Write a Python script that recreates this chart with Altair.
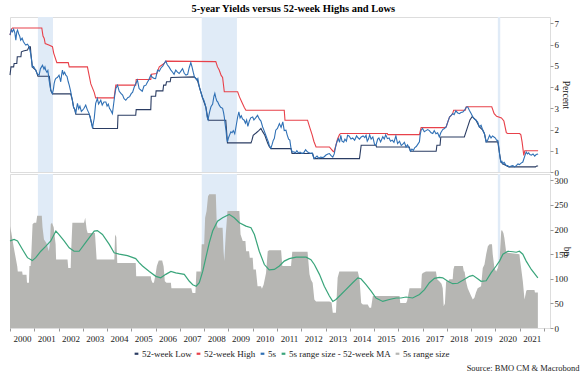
import altair as alt
import pandas as pd

# ---------------- data ----------------
YIELD_T = [2000.00, 2000.05, 2000.10, 2000.15, 2000.20, 2000.24, 2000.28, 2000.31, 2000.36, 2000.40,
           2000.44, 2000.50, 2000.55, 2000.60, 2000.65, 2000.72, 2000.79, 2000.85, 2000.88, 2000.92,
           2000.97, 2001.03, 2001.06, 2001.12, 2001.20, 2001.25, 2001.30, 2001.34, 2001.40, 2001.44,
           2001.47, 2001.52, 2001.56, 2001.61, 2001.68, 2001.75, 2001.79, 2001.82, 2001.86, 2001.89,
           2001.95, 2002.02, 2002.06, 2002.09, 2002.13, 2002.16, 2002.20, 2002.25, 2002.30, 2002.35,
           2002.40, 2002.44, 2002.50, 2002.57, 2002.62, 2002.67, 2002.71, 2002.75, 2002.78, 2002.83,
           2002.88, 2002.94, 2002.99, 2003.05, 2003.12, 2003.18, 2003.26, 2003.30, 2003.33, 2003.40,
           2003.44, 2003.47, 2003.53, 2003.60, 2003.65, 2003.70, 2003.74, 2003.80, 2003.87, 2003.95,
           2004.00, 2004.05, 2004.10, 2004.15, 2004.22, 2004.27, 2004.32, 2004.36, 2004.43, 2004.50,
           2004.57, 2004.64, 2004.70, 2004.77, 2004.85, 2004.93, 2005.00, 2005.05, 2005.12, 2005.20,
           2005.25, 2005.32, 2005.40, 2005.45, 2005.52, 2005.60, 2005.65, 2005.72, 2005.80, 2005.87,
           2005.94, 2006.00, 2006.08, 2006.15, 2006.22, 2006.30, 2006.35, 2006.42, 2006.48, 2006.55,
           2006.63, 2006.70, 2006.76, 2006.83, 2006.90, 2006.97, 2007.04, 2007.11, 2007.18, 2007.25,
           2007.32, 2007.38, 2007.45, 2007.50, 2007.55, 2007.60, 2007.66, 2007.70, 2007.74, 2007.80,
           2007.86, 2007.93, 2007.98, 2008.04, 2008.07, 2008.12, 2008.16, 2008.20, 2008.24, 2008.28,
           2008.35, 2008.40, 2008.44, 2008.48, 2008.52, 2008.56, 2008.62, 2008.68, 2008.76, 2008.80,
           2008.83, 2008.87, 2008.90, 2008.93, 2008.96, 2009.00, 2009.05, 2009.10, 2009.15, 2009.20,
           2009.26, 2009.31, 2009.38, 2009.43, 2009.48, 2009.53, 2009.58, 2009.65, 2009.70, 2009.75,
           2009.80, 2009.86, 2009.92, 2010.00, 2010.05, 2010.12, 2010.20, 2010.27, 2010.34, 2010.41,
           2010.47, 2010.54, 2010.60, 2010.65, 2010.68, 2010.75, 2010.80, 2010.85, 2010.89, 2010.95,
           2011.02, 2011.10, 2011.17, 2011.24, 2011.30, 2011.37, 2011.42, 2011.48, 2011.53, 2011.58,
           2011.63, 2011.70, 2011.76, 2011.82, 2011.88, 2011.95, 2012.02, 2012.10, 2012.18, 2012.25,
           2012.30, 2012.38, 2012.45, 2012.50, 2012.53, 2012.58, 2012.65, 2012.72, 2012.80, 2012.88,
           2012.95, 2013.02, 2013.10, 2013.16, 2013.22, 2013.30, 2013.36, 2013.43, 2013.48, 2013.53,
           2013.58, 2013.63, 2013.68, 2013.75, 2013.80, 2013.86, 2013.91, 2013.97, 2014.05, 2014.12,
           2014.20, 2014.28, 2014.35, 2014.40, 2014.47, 2014.55, 2014.62, 2014.67, 2014.72, 2014.77,
           2014.82, 2014.88, 2014.95, 2015.02, 2015.08, 2015.15, 2015.20, 2015.27, 2015.36, 2015.42,
           2015.48, 2015.55, 2015.62, 2015.68, 2015.75, 2015.82, 2015.90, 2015.97, 2016.05, 2016.12,
           2016.18, 2016.25, 2016.32, 2016.38, 2016.46, 2016.50, 2016.56, 2016.62, 2016.68, 2016.74,
           2016.80, 2016.87, 2016.90, 2016.94, 2017.00, 2017.07, 2017.14, 2017.21, 2017.28, 2017.35,
           2017.42, 2017.48, 2017.55, 2017.62, 2017.69, 2017.75, 2017.83, 2017.90, 2017.97, 2018.04,
           2018.11, 2018.17, 2018.24, 2018.30, 2018.37, 2018.45, 2018.52, 2018.58, 2018.66, 2018.72,
           2018.80, 2018.86, 2018.93, 2019.00, 2019.07, 2019.13, 2019.20, 2019.27, 2019.34, 2019.41,
           2019.48, 2019.55, 2019.62, 2019.68, 2019.76, 2019.82, 2019.88, 2019.94, 2020.00, 2020.05,
           2020.10, 2020.14, 2020.17, 2020.20, 2020.23, 2020.27, 2020.30, 2020.36, 2020.44, 2020.50,
           2020.58, 2020.65, 2020.72, 2020.79, 2020.86, 2020.93, 2020.99, 2021.06, 2021.13, 2021.20,
           2021.24, 2021.27, 2021.32, 2021.37, 2021.42, 2021.48, 2021.55, 2021.62, 2021.68, 2021.76]
YIELD_V = [6.45, 6.70, 6.60, 6.72, 6.55, 6.21, 6.60, 6.68, 6.50, 6.40,
           6.21, 6.30, 6.15, 6.05, 5.98, 6.02, 5.90, 5.58, 5.35, 4.95,
           4.97, 4.85, 4.80, 4.62, 4.56, 4.85, 4.95, 5.03, 4.85, 4.95,
           4.80, 4.70, 4.78, 4.33, 3.85, 3.70, 3.90, 4.17, 4.35, 4.41,
           4.45, 4.56, 4.40, 4.25, 4.60, 4.80, 4.60, 4.70, 4.56, 4.50,
           4.25, 4.09, 3.80, 3.38, 3.05, 2.95, 2.75, 3.05, 3.23, 2.98,
           3.10, 2.85, 2.91, 3.00, 3.15, 2.95, 2.75, 2.60, 2.44, 2.06,
           2.35, 2.52, 3.23, 3.46, 3.20, 3.30, 3.38, 3.15, 3.30, 3.30,
           3.10, 3.20, 3.00, 2.91, 2.75, 3.20, 3.65, 3.93, 4.09, 3.80,
           3.70, 3.62, 3.45, 3.38, 3.50, 3.55, 3.70, 3.75, 4.00, 4.20,
           4.33, 3.93, 3.85, 3.80, 4.05, 4.09, 4.20, 4.35, 4.56, 4.45,
           4.41, 4.40, 4.80, 4.75, 4.90, 5.00, 5.11, 5.22, 5.05, 4.95,
           4.80, 4.70, 4.60, 4.80, 4.70, 4.64, 4.75, 4.87, 4.65, 4.56,
           4.60, 4.90, 5.15, 4.95, 4.70, 4.48, 4.40, 4.33, 4.40, 4.01,
           3.78, 3.51, 3.40, 3.20, 3.05, 2.60, 2.47, 2.70, 2.90, 3.07,
           3.20, 3.55, 3.70, 3.50, 3.35, 3.30, 3.15, 3.05, 3.00, 2.80,
           2.59, 2.20, 1.97, 1.60, 1.42, 1.60, 1.75, 1.89, 1.85, 1.95,
           1.80, 2.12, 2.59, 2.83, 2.55, 2.65, 2.50, 2.44, 2.30, 2.45,
           2.15, 2.40, 2.55, 2.59, 2.45, 2.55, 2.67, 2.50, 2.40, 2.12,
           1.95, 1.73, 1.55, 1.40, 1.26, 1.12, 1.30, 1.50, 1.57, 1.97,
           2.05, 2.28, 2.10, 2.36, 1.95, 1.97, 1.75, 1.55, 1.50, 1.10,
           0.94, 0.95, 0.90, 1.00, 0.90, 0.94, 0.88, 0.90, 1.05, 0.95,
           0.92, 0.88, 0.90, 0.72, 0.63, 0.68, 0.75, 0.65, 0.70, 0.68,
           0.72, 0.80, 0.85, 0.87, 0.78, 0.70, 0.85, 1.26, 1.45, 1.57,
           1.40, 1.73, 1.45, 1.40, 1.55, 1.45, 1.73, 1.70, 1.55, 1.60,
           1.50, 1.70, 1.60, 1.55, 1.65, 1.70, 1.62, 1.73, 1.45, 1.55,
           1.75, 1.55, 1.65, 1.30, 1.26, 1.55, 1.60, 1.42, 1.66, 1.55,
           1.75, 1.57, 1.60, 1.45, 1.50, 1.40, 1.70, 1.34, 1.45, 1.25,
           1.30, 1.40, 1.18, 1.28, 1.10, 0.98, 1.08, 1.02, 1.15, 1.20,
           1.30, 1.42, 1.75, 1.97, 2.05, 1.90, 1.95, 2.00, 1.95, 1.85,
           1.81, 1.95, 1.80, 1.85, 1.65, 1.85, 2.00, 2.05, 2.12, 2.36,
           2.59, 2.65, 2.75, 2.70, 2.88, 2.78, 2.75, 2.80, 2.83, 2.90,
           3.05, 3.07, 2.90, 2.75, 2.59, 2.50, 2.44, 2.35, 2.12, 2.20,
           1.97, 1.80, 1.42, 1.50, 1.73, 1.60, 1.70, 1.65, 1.60, 1.50,
           1.49, 1.20, 0.87, 0.60, 0.47, 0.50, 0.39, 0.45, 0.31, 0.30,
           0.24, 0.28, 0.30, 0.24, 0.30, 0.38, 0.35, 0.42, 0.47, 0.71,
           0.85, 0.94, 0.85, 0.90, 0.82, 0.79, 0.85, 0.75, 0.82, 0.85]

HIGH_T = [2000.00, 2000.06, 2000.10, 2001.31, 2001.36, 2001.41, 2001.45, 2001.60, 2001.75, 2001.80,
          2001.93, 2002.40, 2002.44, 2003.19, 2003.26, 2003.33, 2003.40, 2003.47, 2003.53, 2004.29,
          2004.36, 2005.18, 2005.20, 2005.80, 2005.83, 2006.05, 2006.10, 2006.15, 2006.35, 2006.42,
          2008.48, 2008.55, 2008.62, 2008.70, 2008.76, 2008.83, 2009.38, 2009.45, 2009.55, 2009.65,
          2009.72, 2011.30, 2011.33, 2012.26, 2012.35, 2012.45, 2012.52, 2012.61, 2013.16, 2013.30,
          2013.35, 2013.43, 2013.50, 2013.58, 2013.63, 2015.55, 2015.57, 2016.87, 2016.94, 2017.90,
          2017.97, 2018.04, 2018.11, 2018.17, 2018.24, 2018.28, 2018.76, 2018.80, 2019.85, 2019.95,
          2020.05, 2020.25, 2020.35, 2020.45, 2020.50, 2021.00, 2021.05, 2021.10, 2021.17, 2021.21,
          2021.76]
HIGH_V = [6.45, 6.72, 6.78, 6.78, 6.40, 6.29, 6.05, 5.98, 5.90, 5.60,
          5.15, 5.15, 4.95, 4.95, 4.55, 4.15, 3.95, 3.75, 3.49, 3.49,
          4.09, 4.09, 4.36, 4.36, 4.60, 4.64, 4.80, 4.95, 5.11, 5.22,
          5.20, 4.95, 4.80, 4.55, 4.45, 3.78, 3.78, 3.55, 3.30, 3.05,
          2.91, 2.91, 2.44, 2.44, 2.10, 1.75, 1.45, 1.18, 1.18, 0.99,
          0.95, 1.26, 1.57, 1.77, 1.81, 1.81, 1.76, 1.76, 2.09, 2.09,
          2.12, 2.36, 2.59, 2.65, 2.75, 2.91, 2.91, 3.07, 3.07, 2.75,
          2.62, 2.55, 2.40, 1.85, 1.81, 1.81, 1.75, 1.42, 0.78, 1.00,
          1.00]

LOW_T = [2000.00, 2000.04, 2000.15, 2000.17, 2000.28, 2000.30, 2000.45, 2000.47, 2000.55, 2000.72,
         2000.78, 2000.84, 2000.86, 2000.92, 2001.06, 2001.12, 2001.15, 2001.62, 2001.68, 2001.75,
         2002.50, 2002.57, 2002.62, 2002.67, 2002.71, 2003.26, 2003.30, 2003.33, 2003.42, 2004.43,
         2004.45, 2005.18, 2005.20, 2005.80, 2005.82, 2006.00, 2006.02, 2006.30, 2006.33, 2006.42,
         2006.45, 2006.60, 2006.63, 2007.59, 2007.72, 2007.80, 2007.93, 2008.07, 2008.16, 2008.20,
         2008.89, 2008.96, 2009.93, 2009.97, 2010.02, 2010.15, 2010.25, 2010.34, 2010.41, 2010.50,
         2010.62, 2010.68, 2010.75, 2011.58, 2011.62, 2012.47, 2012.53, 2014.40, 2014.47, 2015.08,
         2015.10, 2016.45, 2016.50, 2017.56, 2017.59, 2017.72, 2017.75, 2018.72, 2018.85, 2018.95,
         2019.05, 2019.10, 2019.20, 2019.34, 2019.48, 2019.55, 2019.62, 2020.10, 2020.17, 2020.23,
         2020.30, 2020.44, 2020.55, 2021.65, 2021.70, 2021.76]
LOW_V = [4.56, 4.95, 4.95, 5.11, 5.11, 5.43, 5.43, 5.66, 5.70, 5.74,
         5.90, 5.90, 5.58, 4.95, 4.80, 4.62, 4.51, 4.51, 3.85, 3.68,
         3.68, 3.38, 3.05, 2.95, 2.72, 2.72, 2.60, 2.44, 2.05, 2.05,
         2.67, 2.67, 2.94, 2.94, 3.57, 3.57, 3.82, 3.82, 4.09, 4.09,
         4.25, 4.25, 4.45, 4.48, 4.33, 4.01, 3.51, 3.05, 2.47, 2.44,
         2.44, 1.37, 1.37, 1.50, 1.73, 1.85, 1.95, 2.05, 1.90, 1.73,
         1.35, 1.20, 1.10, 1.10, 0.87, 0.87, 0.63, 0.63, 1.26, 1.26,
         1.18, 1.18, 0.98, 0.98, 1.26, 1.26, 1.65, 1.65, 2.10, 2.45,
         2.62, 2.55, 2.44, 2.12, 1.97, 1.80, 1.42, 1.42, 0.87, 0.47,
         0.39, 0.31, 0.24, 0.24, 0.28, 0.28]

RANGE_T = [2000.00, 2000.05, 2000.15, 2000.30, 2000.32, 2000.50, 2000.52, 2000.68, 2000.70, 2000.78,
           2000.80, 2000.85, 2000.88, 2000.93, 2000.99, 2001.08, 2001.12, 2001.31, 2001.34, 2001.40,
           2001.50, 2001.60, 2001.64, 2001.68, 2001.73, 2001.80, 2001.88, 2001.90, 2002.37, 2002.40,
           2002.50, 2002.52, 2002.57, 2003.05, 2003.10, 2003.16, 2003.20, 2003.50, 2003.53, 2003.57,
           2004.30, 2004.33, 2004.38, 2004.42, 2005.18, 2005.20, 2005.80, 2005.82, 2005.87, 2005.93,
           2006.00, 2006.05, 2006.13, 2006.27, 2006.33, 2006.38, 2006.45, 2006.63, 2006.65, 2007.47,
           2007.52, 2007.64, 2007.68, 2007.86, 2007.90, 2008.00, 2008.04, 2008.10, 2008.16, 2008.21,
           2008.48, 2008.52, 2008.56, 2008.76, 2008.80, 2008.83, 2008.89, 2008.96, 2009.45, 2009.50,
           2009.59, 2009.70, 2009.73, 2009.85, 2009.88, 2010.00, 2010.03, 2010.13, 2010.20, 2010.34,
           2010.38, 2010.45, 2010.55, 2010.62, 2010.68, 2011.17, 2011.22, 2011.58, 2011.63, 2012.26,
           2012.34, 2012.40, 2012.47, 2012.54, 2012.61, 2013.16, 2013.25, 2013.30, 2013.43, 2013.50,
           2013.57, 2014.33, 2014.40, 2014.47, 2014.54, 2014.74, 2014.81, 2014.88, 2014.95, 2016.05,
           2016.08, 2016.32, 2016.36, 2016.44, 2016.46, 2016.94, 2016.97, 2017.01, 2017.14, 2017.55,
           2017.60, 2017.69, 2017.78, 2017.83, 2017.87, 2017.92, 2017.97, 2018.04, 2018.11, 2018.24,
           2018.27, 2018.31, 2018.66, 2018.70, 2018.73, 2018.79, 2018.86, 2019.00, 2019.07, 2019.14,
           2019.20, 2019.27, 2019.41, 2019.48, 2019.55, 2019.62, 2019.69, 2019.76, 2019.86, 2019.89,
           2019.96, 2020.03, 2020.10, 2020.17, 2020.24, 2020.27, 2020.33, 2020.37, 2020.44, 2020.51,
           2020.99, 2021.02, 2021.06, 2021.13, 2021.20, 2021.27, 2021.30, 2021.61, 2021.63, 2021.75]
RANGE_V = [207, 195, 165, 125, 115, 115, 108, 108, 92, 92,
           126, 126, 153, 211, 214, 214, 228, 228, 205, 180,
           173, 156, 170, 211, 214, 205, 170, 139, 139, 122,
           122, 156, 214, 214, 224, 200, 193, 193, 170, 139,
           139, 190, 185, 132, 132, 105, 105, 98, 92, 92,
           110, 126, 137, 137, 125, 95, 92, 92, 81, 81,
           71, 71, 115, 115, 170, 170, 224, 238, 268, 272,
           272, 210, 204, 204, 156, 136, 190, 238, 238, 190,
           177, 177, 156, 156, 143, 143, 119, 119, 85, 85,
           80, 88, 112, 156, 158, 158, 126, 126, 155, 155,
           109, 98, 92, 58, 54, 54, 52, 31, 31, 102,
           115, 115, 100, 51, 48, 48, 41, 41, 65, 65,
           51, 51, 55, 75, 81, 81, 109, 112, 115, 115,
           99, 95, 90, 81, 44, 50, 95, 95, 99, 99,
           119, 126, 126, 115, 115, 95, 81, 65, 58, 62,
           72, 81, 85, 122, 129, 150, 166, 170, 170, 150,
           122, 115, 122, 136, 197, 199, 193, 183, 156, 153,
           150, 136, 122, 95, 58, 75, 77, 77, 72, 72]

MA_T = [2000.00, 2000.17, 2000.31, 2000.51, 2000.72, 2000.92, 2001.06, 2001.27, 2001.47, 2001.68,
        2001.89, 2002.02, 2002.23, 2002.44, 2002.64, 2002.85, 2003.06, 2003.26, 2003.47, 2003.60,
        2003.81, 2004.09, 2004.29, 2004.50, 2004.84, 2005.18, 2005.32, 2005.46, 2005.74, 2006.01,
        2006.21, 2006.42, 2006.63, 2006.83, 2007.18, 2007.39, 2007.53, 2007.67, 2007.80, 2007.94,
        2008.07, 2008.21, 2008.35, 2008.55, 2008.76, 2009.03, 2009.24, 2009.45, 2009.72, 2009.93,
        2010.07, 2010.27, 2010.48, 2010.68, 2010.89, 2011.10, 2011.30, 2011.51, 2011.79, 2012.20,
        2012.40, 2012.54, 2012.75, 2012.95, 2013.16, 2013.30, 2013.43, 2013.64, 2013.84, 2014.12,
        2014.33, 2014.46, 2014.67, 2014.88, 2015.08, 2015.36, 2015.63, 2015.91, 2016.11, 2016.32,
        2016.59, 2016.87, 2017.08, 2017.28, 2017.49, 2017.69, 2017.83, 2018.04, 2018.24, 2018.45,
        2018.73, 2018.93, 2019.07, 2019.27, 2019.41, 2019.62, 2019.82, 2020.03, 2020.17, 2020.31,
        2020.51, 2020.72, 2020.86, 2020.99, 2021.13, 2021.27, 2021.48, 2021.75]
MA_V = [177, 180, 177, 160, 143, 137, 143, 156, 166, 177,
        197, 190, 177, 163, 156, 156, 170, 183, 197, 198,
        190, 170, 153, 150, 147, 141, 133, 126, 115, 105,
        102, 109, 115, 112, 109, 95, 88, 85, 92, 115,
        143, 173, 197, 217, 224, 231, 224, 214, 207, 204,
        190, 156, 129, 118, 119, 126, 136, 141, 144, 144,
        139, 129, 109, 85, 65, 54, 58, 68, 78, 92,
        102, 100, 88, 75, 61, 54, 58, 61, 61, 63,
        61, 68, 78, 92, 101, 103, 102, 95, 90, 91,
        99, 105, 107, 100, 95, 96, 112, 126, 136, 150,
        156, 155, 154, 156, 150, 136, 119, 102]

BAND_START = [2001.15, 2007.90, 2020.10]
BAND_END = [2001.77, 2009.35, 2020.20]

YEARS = list(range(2000, 2023))
PCT_TICKS = [0, 1, 2, 3, 4, 5, 6, 7]
BP_TICKS = [0, 50, 100, 150, 200, 250, 300]

SERIES = ["52-week Low", "52-week High", "5s", "5s range size - 52-week MA", "5s range size"]
COLORS = ["#2b3d63", "#e8414a", "#2f70b5", "#3aa57b", "#b6b6b3"]

TITLE = "5-year Yields versus 52-week Highs and Lows"
SOURCE = "Source: BMO CM & Macrobond"

# ---------------- chart ----------------
FONT = "Liberation Serif"
TXT = "#222222"
W, H_TOP, H_BOT = 540, 155, 154


def frame(t, v, name):
    return pd.DataFrame({"t": t, "v": v, "series": name})


xscale = alt.Scale(domain=[2000.0, 2022.25], nice=False, zero=False)

color = alt.Color(
    "series:N",
    scale=alt.Scale(domain=SERIES, range=COLORS),
    legend=alt.Legend(
        orient="none", legendX=122, legendY=332, direction="horizontal", title=None,
        symbolType="stroke", symbolSize=14, symbolStrokeWidth=2.2,
        labelFont=FONT, labelFontSize=9, labelColor=TXT,
        columnPadding=0, labelOffset=1, padding=0,
    ),
)

bands_df = pd.DataFrame({"start": BAND_START, "end": BAND_END})

xaxis_bottom = alt.Axis(
    values=YEARS, format="d", labelExpr="datum.value >= 2022 ? '' : datum.label",
    labelOffset=12, labelFlush=False, labelOverlap=False, grid=False, domain=False,
    tickSize=3, tickColor="#999999", labelPadding=3,
    labelFont=FONT, labelFontSize=9, labelColor=TXT,
    title=SOURCE, titleFont=FONT, titleFontSize=8.5, titleFontWeight="normal", titleColor=TXT,
    titleAnchor="end", titleAlign="right", titleBaseline="top", titleX=569, titleY=35,
)


def bands(h, axis):
    return alt.Chart(bands_df).mark_rect(color="#e0ebf7").encode(
        x=alt.X("start:Q", scale=xscale, axis=axis),
        x2="end:Q",
        y=alt.value(0),
        y2=alt.value(h),
    )


def yaxis(values, title, h, tx):
    return alt.Axis(
        orient="right", values=values, title=title, grid=False, domain=False,
        tickSize=3, tickColor="#999999", labelPadding=1,
        labelFont=FONT, labelFontSize=9, labelColor=TXT,
        titleFont=FONT, titleFontSize=9.5, titleFontWeight="normal", titleColor=TXT,
        titleAngle=90, titleAlign="center", titleBaseline="bottom", titleX=tx, titleY=h / 2,
    )


ytop = alt.Y("v:Q", scale=alt.Scale(domain=[0, 7.3], nice=False),
             axis=yaxis(PCT_TICKS, "Percent", H_TOP, 10))
xt = alt.X("t:Q", scale=xscale, axis=None)

top = alt.layer(
    bands(H_TOP, None),
    alt.Chart(frame(LOW_T, LOW_V, SERIES[0])).mark_line(strokeWidth=1.1).encode(x=xt, y=ytop, color=color),
    alt.Chart(frame(HIGH_T, HIGH_V, SERIES[1])).mark_line(strokeWidth=1.1).encode(x=xt, y=ytop, color=color),
    alt.Chart(frame(YIELD_T, YIELD_V, SERIES[2])).mark_line(strokeWidth=1.1).encode(x=xt, y=ytop, color=color),
).properties(width=W, height=H_TOP)

xbot = alt.X("t:Q", scale=xscale, axis=xaxis_bottom)
ybot = alt.Y("v:Q", scale=alt.Scale(domain=[0, 313], nice=False),
             axis=yaxis(BP_TICKS, "bp", H_BOT, 11))

bottom = alt.layer(
    bands(H_BOT, xaxis_bottom),
    alt.Chart(frame(RANGE_T, RANGE_V, SERIES[4])).mark_area(opacity=1).encode(x=xbot, y=ybot, color=color),
    alt.Chart(frame(MA_T, MA_V, SERIES[3])).mark_line(strokeWidth=1.2).encode(x=xbot, y=ybot, color=color),
).properties(width=W, height=H_BOT)

chart = (
    alt.vconcat(top, bottom, spacing=2, bounds="flush")
    .properties(
        title=alt.TitleParams(TITLE, font=FONT, fontSize=10.5, fontWeight="bold", color="#000000",
                              anchor="middle", offset=2),
        padding={"left": 7, "top": 4, "right": 3, "bottom": 2},
    )
    .configure_view(stroke="#c8c8c8", strokeWidth=1)
    .configure_legend(columnPadding=0)
    .configure(background="white")
)

chart.save("out.html", embed_options={"renderer": "svg", "actions": False})
